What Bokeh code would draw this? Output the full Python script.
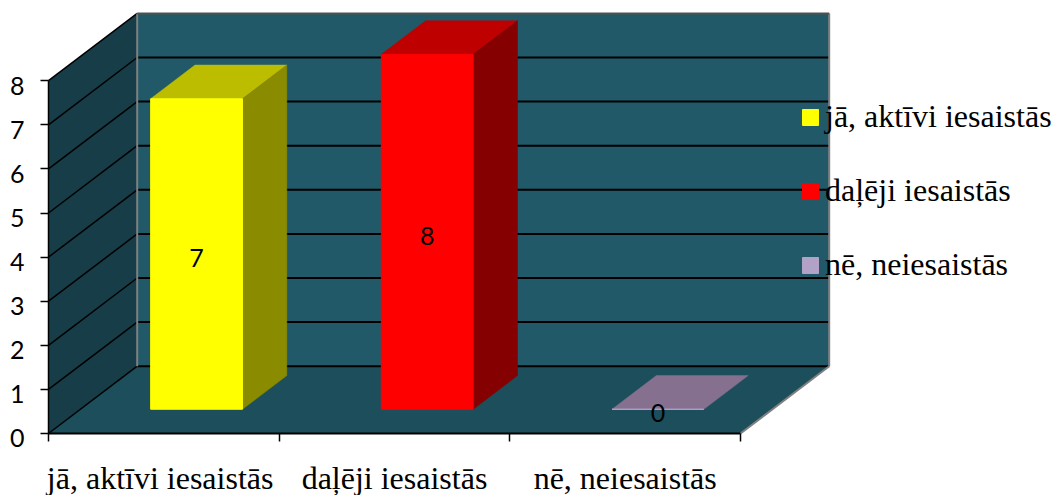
from bokeh.embed import file_html
from bokeh.resources import INLINE
from bokeh.plotting import figure
from bokeh.models import (ColumnDataSource, FixedTicker, Legend, LegendItem, LinearAxis, Range1d)
from bokeh.core.properties import value

# ---- data ----
categories = ["jā, aktīvi iesaistās", "daļēji iesaistās", "nē, neiesaistās"]
values = [7, 8, 0]
value_ticks = [0, 1, 2, 3, 4, 5, 6, 7, 8]
category_edges = [0, 1, 2, 3]
front_colors = ["#FFFF00", "#FF0000", "#B3A2C7"]
top_colors = ["#BDBD00", "#BE0000", "#85708F"]
side_colors = ["#8B8B00", "#850000", "#5F5068"]

# ---- styles / projection ----
W, H = 1054, 495
X0_PX, Y0_PX = 48.0, 433.0
PX_PER_CAT, PX_PER_VAL = 230.67, 44.1
DEPTH_X, DEPTH_Y = 0.3845, 1.526      # oblique wall depth, in axis units
BAR_START, BAR_DEPTH = 0.36, 0.5      # fractions of the depth
GAP, BAR_W = 0.3045, 0.398
STRETCH = 1.006
VALUE_LABEL_DROP = 0.11               # value labels sit slightly below their ticks
FIRST_LABEL_SHIFT = 0.016             # first category label sits slightly left of centre
WALL_BACK, WALL_SIDE, FLOOR = "#215968", "#173D48", "#1D4E5B"
EDGE = "#808080"
YMAX, NCAT = value_ticks[-1], len(categories)

p = figure(width=W, height=H, output_backend="svg", toolbar_location=None, tools="",
           x_axis_type=None, y_axis_type=None, min_border=0, outline_line_color=None,
           x_range=Range1d(-X0_PX / PX_PER_CAT, (W - X0_PX) / PX_PER_CAT),
           y_range=Range1d((Y0_PX - H) / PX_PER_VAL, Y0_PX / PX_PER_VAL))
p.grid.visible = False

# walls and floor
p.patch([DEPTH_X, NCAT + DEPTH_X, NCAT + DEPTH_X, DEPTH_X],
        [DEPTH_Y, DEPTH_Y, YMAX + DEPTH_Y, YMAX + DEPTH_Y], fill_color=WALL_BACK, line_color=None)
p.patch([0, DEPTH_X, DEPTH_X, 0], [0, DEPTH_Y, YMAX + DEPTH_Y, YMAX],
        fill_color=WALL_SIDE, line_color=None)
p.patch([0, NCAT, NCAT + DEPTH_X, DEPTH_X], [0, 0, DEPTH_Y, DEPTH_Y],
        fill_color=FLOOR, line_color=None)

# grid lines on walls
grid = value_ticks[:-1]
p.multi_line([[DEPTH_X, NCAT + DEPTH_X] for _ in grid], [[v + DEPTH_Y] * 2 for v in grid],
             line_color="black", line_width=2)
p.multi_line([[0, DEPTH_X] for _ in value_ticks], [[v, v + DEPTH_Y] for v in value_ticks],
             line_color="black", line_width=1.5)
# grey wall edges
p.multi_line([[DEPTH_X, DEPTH_X], [NCAT + DEPTH_X, NCAT + DEPTH_X], [NCAT, NCAT + DEPTH_X]],
             [[DEPTH_Y, YMAX + DEPTH_Y], [DEPTH_Y, YMAX + DEPTH_Y], [0, DEPTH_Y]],
             line_color=EDGE, line_width=2)
p.line([DEPTH_X, NCAT + DEPTH_X], [YMAX + DEPTH_Y] * 2, line_color="#505050", line_width=2)

# bars
items = []
dx0, dy0 = BAR_START * DEPTH_X, BAR_START * DEPTH_Y
dx1, dy1 = BAR_DEPTH * DEPTH_X, BAR_DEPTH * DEPTH_Y
for i, (cat, val) in enumerate(zip(categories, values)):
    left = i + GAP + dx0
    right = left + BAR_W
    bottom = dy0
    top = dy0 + val * STRETCH
    p.patch([left, right, right + dx1, left + dx1], [top, top, top + dy1, top + dy1],
            fill_color=top_colors[i], line_color=top_colors[i], line_width=0.5)
    p.patch([right, right + dx1, right + dx1, right],
            [bottom, bottom + dy1, top + dy1, top],
            fill_color=side_colors[i], line_color=side_colors[i] if val else None, line_width=0.5)
    r = p.quad(left=[left], right=[right], bottom=[bottom], top=[top],
               fill_color=front_colors[i], line_color=front_colors[i], line_width=1)
    items.append(LegendItem(label=cat, renderers=[r]))

# data labels
src = ColumnDataSource(dict(
    x=[i + GAP + dx0 + BAR_W / 2 for i in range(NCAT)],
    y=[dy0 + v * STRETCH / 2 for v in values],
    t=[str(v) for v in values]))
p.text("x", "y", text="t", source=src, text_align="center", text_baseline="middle",
       y_offset=4, text_font=value("Lato"), text_font_size="25px", text_color="black")

# axes
yax = LinearAxis(fixed_location=0, bounds=(0, YMAX), ticker=FixedTicker(ticks=value_ticks),
                 major_tick_in=0, major_tick_out=8, minor_tick_line_color=None,
                 axis_line_color="black", axis_line_width=1.5, major_tick_line_color="black",
                 major_tick_line_width=1.5, major_label_text_font_size="0px",
                 major_label_text_color=None)
p.add_layout(yax, "left")
label_ticks = [v - VALUE_LABEL_DROP for v in value_ticks]
ylab = LinearAxis(fixed_location=0, ticker=FixedTicker(ticks=label_ticks),
                  major_tick_line_color=None, minor_tick_line_color=None, axis_line_color=None,
                  major_tick_in=0, major_tick_out=8, major_label_standoff=16,
                  major_label_overrides={t: str(v) for t, v in zip(label_ticks, value_ticks)},
                  major_label_text_font="Lato", major_label_text_font_size="25px",
                  major_label_text_color="black")
p.add_layout(ylab, "left")
xax = LinearAxis(fixed_location=0, bounds=(0, NCAT), ticker=FixedTicker(ticks=category_edges),
                 major_tick_in=0, major_tick_out=8, minor_tick_line_color=None,
                 axis_line_color="black", axis_line_width=2, major_tick_line_color="black",
                 major_tick_line_width=1.5, major_label_text_font_size="0px",
                 major_label_text_color=None)
p.add_layout(xax, "below")
centres = [i + 0.5 - (FIRST_LABEL_SHIFT if i == 0 else 0) for i in range(NCAT)]
xlab = LinearAxis(fixed_location=0, ticker=FixedTicker(ticks=centres),
                  major_tick_line_color=None, minor_tick_line_color=None, axis_line_color=None,
                  major_tick_in=0, major_tick_out=0, major_label_standoff=26,
                  major_label_overrides={c: n for c, n in zip(centres, categories)},
                  major_label_text_font="Liberation Serif", major_label_text_font_size="32px",
                  major_label_text_color="black")
p.add_layout(xlab, "below")

# legend
legend = Legend(items=items, location=(800, 212), orientation="vertical", padding=0, margin=0,
                background_fill_alpha=0, border_line_color=None, glyph_width=20, glyph_height=20,
                label_standoff=5, label_height=32, spacing=37,
                label_text_font="Liberation Serif", label_text_font_size="32px",
                label_text_color="black")
p.add_layout(legend, "center")

open("out.html", "w").write(file_html(p, INLINE))
